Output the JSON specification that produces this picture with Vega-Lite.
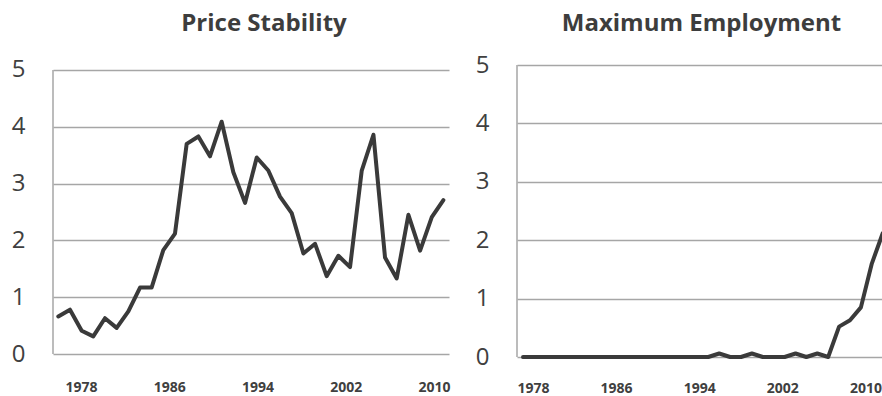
{
  "$schema": "https://vega.github.io/schema/vega-lite/v6.json",
  "background": "white",
  "padding": {"left": 11, "top": 11, "right": 0, "bottom": 0},
  "spacing": 24,
  "config": {
    "view": {"stroke": null},
    "font": "Open Sans",
    "title": {"font": "Open Sans", "fontSize": 24, "fontWeight": "bold", "color": "#3d3d3d"},
    "axisY": {"labelFont": "Open Sans", "labelFontSize": 24, "labelColor": "#404040", "labelPadding": 28, "ticks": false, "domain": false, "grid": true, "gridColor": "#a6a6a6", "gridWidth": 1.5, "title": null},
    "axisX": {"labelFont": "Open Sans", "labelFontSize": 14, "labelFontWeight": "bold", "labelColor": "#404040", "ticks": false, "domain": false, "grid": false, "title": null}
  },
  "datasets": {
    "price": [
      {"t": 1975.94, "v": 0.66}, {"t": 1977.00, "v": 0.78}, {"t": 1978.06, "v": 0.41}, {"t": 1979.11, "v": 0.31},
      {"t": 1980.17, "v": 0.63}, {"t": 1981.23, "v": 0.46}, {"t": 1982.29, "v": 0.75}, {"t": 1983.35, "v": 1.17},
      {"t": 1984.40, "v": 1.17}, {"t": 1985.46, "v": 1.83}, {"t": 1986.52, "v": 2.12}, {"t": 1987.58, "v": 3.70},
      {"t": 1988.64, "v": 3.83}, {"t": 1989.69, "v": 3.48}, {"t": 1990.75, "v": 4.09}, {"t": 1991.81, "v": 3.20},
      {"t": 1992.87, "v": 2.66}, {"t": 1993.93, "v": 3.46}, {"t": 1994.98, "v": 3.23}, {"t": 1996.04, "v": 2.77},
      {"t": 1997.10, "v": 2.48}, {"t": 1998.16, "v": 1.77}, {"t": 1999.22, "v": 1.94}, {"t": 2000.27, "v": 1.37},
      {"t": 2001.33, "v": 1.73}, {"t": 2002.39, "v": 1.53}, {"t": 2003.45, "v": 3.23}, {"t": 2004.51, "v": 3.86},
      {"t": 2005.56, "v": 1.70}, {"t": 2006.62, "v": 1.33}, {"t": 2007.68, "v": 2.45}, {"t": 2008.74, "v": 1.82},
      {"t": 2009.80, "v": 2.41}, {"t": 2010.85, "v": 2.71}
    ],
    "employment": [
      {"t": 1977.04, "v": 0}, {"t": 1978.09, "v": 0}, {"t": 1979.14, "v": 0}, {"t": 1980.19, "v": 0},
      {"t": 1981.24, "v": 0}, {"t": 1982.29, "v": 0}, {"t": 1983.33, "v": 0}, {"t": 1984.38, "v": 0},
      {"t": 1985.43, "v": 0}, {"t": 1986.48, "v": 0}, {"t": 1987.53, "v": 0}, {"t": 1988.58, "v": 0},
      {"t": 1989.63, "v": 0}, {"t": 1990.68, "v": 0}, {"t": 1991.73, "v": 0}, {"t": 1992.78, "v": 0},
      {"t": 1993.82, "v": 0}, {"t": 1994.87, "v": 0}, {"t": 1995.92, "v": 0.06}, {"t": 1996.97, "v": 0},
      {"t": 1998.02, "v": 0}, {"t": 1999.07, "v": 0.06}, {"t": 2000.12, "v": 0}, {"t": 2001.17, "v": 0},
      {"t": 2002.22, "v": 0}, {"t": 2003.27, "v": 0.06}, {"t": 2004.31, "v": 0}, {"t": 2005.36, "v": 0.06},
      {"t": 2006.41, "v": 0}, {"t": 2007.46, "v": 0.52}, {"t": 2008.51, "v": 0.63}, {"t": 2009.56, "v": 0.85},
      {"t": 2010.61, "v": 1.6}, {"t": 2011.66, "v": 2.12}
    ]
  },
  "hconcat": [
    {
      "title": {"text": "Price Stability", "dx": 13, "offset": 22},
      "width": 396,
      "height": 289,
      "layer": [
        {
          "data": {"values": [{}]},
          "mark": {"type": "rule", "color": "#a6a6a6", "strokeWidth": 1.5},
          "encoding": {
            "x": {"datum": 1975.46, "type": "quantitative"},
            "y": {"datum": 0, "type": "quantitative"},
            "y2": {"datum": 5}
          }
        },
        {
          "data": {"name": "price"},
          "mark": {"type": "line", "color": "#3a3a3a", "strokeWidth": 4, "strokeJoin": "round", "strokeCap": "round"},
          "encoding": {
            "x": {"field": "t", "type": "quantitative", "scale": {"domain": [1975.46, 2011.36], "nice": false, "zero": false}, "axis": {"values": [1978, 1986, 1994, 2002, 2010], "format": "d", "labelPadding": 26}},
            "y": {"field": "v", "type": "quantitative", "scale": {"domain": [0, 5.088], "nice": false}, "axis": {"values": [0, 1, 2, 3, 4, 5], "format": "d"}}
          }
        }
      ]
    },
    {
      "title": {"text": "Maximum Employment", "dx": 2, "offset": 17},
      "width": 365,
      "height": 294,
      "layer": [
        {
          "data": {"values": [{}]},
          "mark": {"type": "rule", "color": "#a6a6a6", "strokeWidth": 1.5},
          "encoding": {
            "x": {"datum": 1976.46, "type": "quantitative"},
            "y": {"datum": 0, "type": "quantitative"},
            "y2": {"datum": 5}
          }
        },
        {
          "data": {"name": "employment"},
          "mark": {"type": "line", "color": "#3a3a3a", "strokeWidth": 4, "strokeJoin": "round", "strokeCap": "round", "clip": true},
          "encoding": {
            "x": {"field": "t", "type": "quantitative", "scale": {"domain": [1976.46, 2011.59], "nice": false, "zero": false}, "axis": {"values": [1978, 1986, 1994, 2002, 2010], "format": "d", "labelPadding": 22}},
            "y": {"field": "v", "type": "quantitative", "scale": {"domain": [-0.034, 5], "nice": false}, "axis": {"values": [0, 1, 2, 3, 4, 5], "format": "d"}}
          }
        }
      ]
    }
  ]
}
